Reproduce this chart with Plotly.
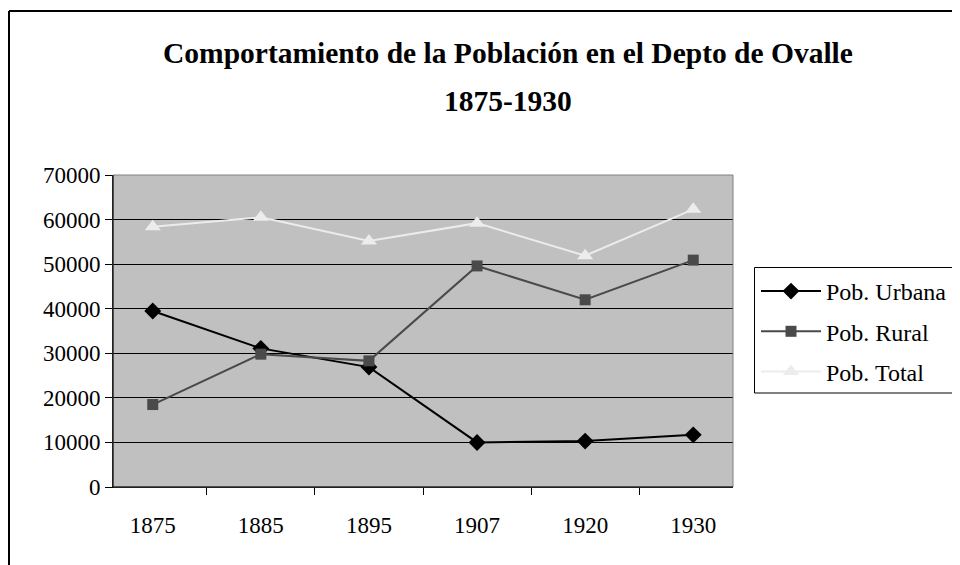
import plotly.graph_objects as go

years = ["1875", "1885", "1895", "1907", "1920", "1930"]
urbana = [39500, 31100, 26900, 10000, 10300, 11700]
rural = [18500, 29800, 28300, 49600, 42000, 50900]
total = [58400, 60500, 55200, 59200, 51900, 62300]
y_ticks = [0, 10000, 20000, 30000, 40000, 50000, 60000, 70000]

FONT = "Liberation Serif, Times New Roman, serif"

fig = go.Figure()
fig.add_trace(go.Scatter(x=years, y=urbana, name="Pob. Urbana", mode="lines+markers",
                         legendgroup="a",
                         line=dict(color="#000000", width=2),
                         marker=dict(symbol="diamond", size=13, color="#000000")))
fig.add_trace(go.Scatter(x=years, y=rural, name="Pob. Rural", mode="lines+markers",
                         legendgroup="b",
                         line=dict(color="#4a4a4a", width=2),
                         marker=dict(symbol="square", size=11, color="#4a4a4a")))
fig.add_trace(go.Scatter(x=years, y=total, name="Pob. Total", mode="lines+markers",
                         legendgroup="c",
                         line=dict(color="#ececec", width=2),
                         marker=dict(symbol="triangle-up", size=14, color="#ececec")))

# page body adds an 8px offset; coordinates below are in screen pixels
OFF = 8
L, R, T, B = 113 - OFF, 733 - OFF, 175 - OFF, 487 - OFF
W, H = 952, 557
pw, ph = R - L, B - T

def px(x):
    return (x - OFF - L) / pw

def py(y):
    return (B - (y - OFF)) / ph

fig.update_layout(
    width=W, height=H,
    margin=dict(l=L, r=W - R, t=T, b=H - B, autoexpand=False),
    paper_bgcolor="white",
    plot_bgcolor="#c0c0c0",
    font=dict(family=FONT, size=23, color="#000000"),
    showlegend=True,
    legend=dict(x=px(756), y=py(269), xanchor="left", yanchor="top",
                bgcolor="rgba(0,0,0,0)", borderwidth=0,
                font=dict(family=FONT, size=24), itemwidth=60,
                tracegroupgap=6, traceorder="grouped"),
    xaxis=dict(type="category", showgrid=False, showline=True, linecolor="#000000",
               linewidth=1, ticks="outside", ticklen=7, tickcolor="#000000",
               tickson="boundaries", ticklabelstandoff=17,
               tickfont=dict(family=FONT, size=23), mirror=False, zeroline=False),
    yaxis=dict(range=[0, 70000], tickvals=y_ticks, ticktext=[str(v) for v in y_ticks],
               showgrid=True, gridcolor="#000000", gridwidth=1,
               showline=True, linecolor="#000000", linewidth=1,
               ticks="outside", ticklen=7, tickcolor="#000000",
               tickfont=dict(family=FONT, size=23), zeroline=False),
    shapes=[
        dict(type="rect", xref="paper", yref="paper", x0=0, x1=1, y0=0, y1=1,
             line=dict(color="#808080", width=1), fillcolor="rgba(0,0,0,0)", layer="above"),
        dict(type="line", xref="paper", yref="paper", x0=0, x1=0, y0=0, y1=1,
             line=dict(color="#000000", width=1), layer="above"),
        dict(type="line", xref="paper", yref="paper", x0=0, x1=1, y0=0, y1=0,
             line=dict(color="#000000", width=1), layer="above"),
        # legend box
        dict(type="rect", xref="paper", yref="paper", x0=px(754.5), x1=px(990),
             y0=py(393), y1=py(267.5),
             line=dict(color="#000000", width=1), fillcolor="white", layer="below"),
        # outer chart frame
        dict(type="line", xref="paper", yref="paper", x0=px(9), x1=px(975), y0=py(11), y1=py(11),
             line=dict(color="#000000", width=2)),
        dict(type="line", xref="paper", yref="paper", x0=px(9), x1=px(9), y0=py(11), y1=py(590),
             line=dict(color="#000000", width=2)),
    ],
    annotations=[
        dict(text="<b>Comportamiento de la Población en el Depto de Ovalle</b>",
             xref="paper", yref="paper", x=px(508), y=py(53), xanchor="center", yanchor="middle",
             showarrow=False, font=dict(family=FONT, size=29.5, color="#000000")),
        dict(text="<b>1875-1930</b>",
             xref="paper", yref="paper", x=px(508), y=py(101), xanchor="center", yanchor="middle",
             showarrow=False, font=dict(family=FONT, size=29.5, color="#000000")),
    ],
)

fig.write_html("out.html")
